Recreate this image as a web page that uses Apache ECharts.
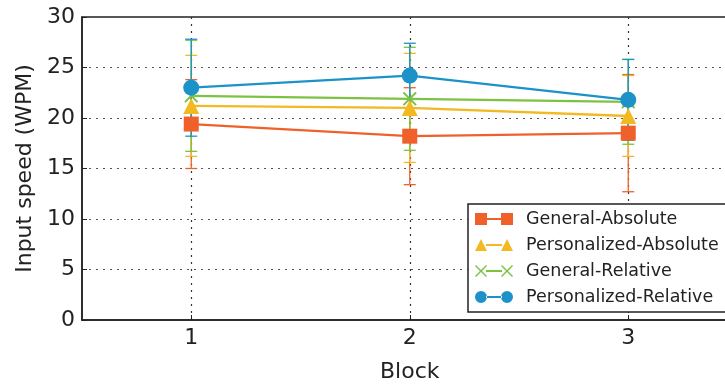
<!DOCTYPE html>
<html>
<head>
<meta charset="utf-8">
<script src="https://cdn.jsdelivr.net/npm/echarts@6/dist/echarts.min.js"></script>
<style>
  html, body { margin: 0; padding: 0; background: #fff; }
  #chart { width: 725px; height: 385px; }
</style>
</head>
<body>
<div id="chart"></div>
<script>
const blocks = [1, 2, 3];
const yTicks = [0, 5, 10, 15, 20, 25, 30];

const generalAbsolute = [19.4, 18.2, 18.5];
const generalAbsoluteErr = [4.4, 4.8, 5.8];
const personalizedAbsolute = [21.2, 21.0, 20.2];
const personalizedAbsoluteErr = [5.0, 5.4, 4.0];
const generalRelative = [22.2, 21.9, 21.6];
const generalRelativeErr = [5.5, 5.1, 4.2];
const personalizedRelative = [23.0, 24.2, 21.8];
const personalizedRelativeErr = [4.8, 3.2, 4.0];

const font = 'DejaVu Sans';
const xMark = 'path://M0,1L1,0L5,4L9,0L10,1L6,5L10,9L9,10L5,6L1,10L0,9L4,5Z';

// legend icons: marker - line - marker, 38x12 box
const iconLine = 'M11,5h16v2h-16z';
const legendIcons = {
  rect: 'path://M0,0h12v12h-12zM26,0h12v12h-12z' + iconLine,
  triangle: 'path://M0,12L6,0L12,12zM26,12L32,0L38,12z' + iconLine,
  x: 'path://M0,1L1,0L6,5L11,0L12,1L7,6L12,11L11,12L6,7L1,12L0,11L5,6z' +
     'M26,1L27,0L32,5L37,0L38,1L33,6L38,11L37,12L32,7L27,12L26,11L31,6z' + iconLine,
  circle: 'path://M0,6a6,6 0 1,0 12,0a6,6 0 1,0 -12,0zM26,6a6,6 0 1,0 12,0a6,6 0 1,0 -12,0z' + iconLine
};

const groups = [
  { name: 'General-Absolute', color: '#F0602A', symbol: 'rect', icon: legendIcons.rect, size: 15, vals: generalAbsolute, err: generalAbsoluteErr },
  { name: 'Personalized-Absolute', color: '#F2B922', symbol: 'triangle', icon: legendIcons.triangle, size: 16, vals: personalizedAbsolute, err: personalizedAbsoluteErr },
  { name: 'General-Relative', color: '#7DC242', symbol: xMark, icon: legendIcons.x, size: 14, vals: generalRelative, err: generalRelativeErr },
  { name: 'Personalized-Relative', color: '#1C92C9', symbol: 'circle', icon: legendIcons.circle, size: 16, vals: personalizedRelative, err: personalizedRelativeErr }
];

function errorBars(g, idx) {
  return {
    type: 'custom',
    name: g.name + '-err',
    z: 1 + idx,
    silent: true,
    data: g.vals.map((v, i) => [blocks[i], v - g.err[i], v + g.err[i]]),
    renderItem: function (params, api) {
      const lo = api.coord([api.value(0), api.value(1)]);
      const hi = api.coord([api.value(0), api.value(2)]);
      const cap = 6;
      const style = { stroke: g.color, lineWidth: 1.3 };
      return {
        type: 'group',
        children: [
          { type: 'line', shape: { x1: lo[0], y1: lo[1], x2: hi[0], y2: hi[1] }, style: style },
          { type: 'line', shape: { x1: lo[0] - cap, y1: lo[1], x2: lo[0] + cap, y2: lo[1] }, style: style },
          { type: 'line', shape: { x1: hi[0] - cap, y1: hi[1], x2: hi[0] + cap, y2: hi[1] }, style: style }
        ]
      };
    }
  };
}

const lineSeries = groups.map((g, idx) => ({
  type: 'line',
  name: g.name,
  data: g.vals.map((v, i) => [blocks[i], v]),
  z: 10 + idx,
  symbol: g.symbol,
  symbolSize: g.size,
  showAllSymbol: true,
  lineStyle: { color: g.color, width: 2.3 },
  itemStyle: { color: g.color }
}));

const chart = echarts.init(document.getElementById('chart'));
chart.setOption({
  animation: false,
  textStyle: { fontFamily: font },
  grid: {
    left: 82, top: 17, width: 655.5, height: 303,
    outerBoundsMode: 'none', containLabel: false,
    show: true, borderColor: '#222', borderWidth: 1.5, backgroundColor: 'transparent'
  },
  legend: {
    orient: 'vertical',
    left: 468, top: 204,
    data: groups.map(g => ({ name: g.name, icon: g.icon })),
    itemWidth: 38, itemHeight: 12, itemGap: 8,
    padding: [6, 40, 6, 7],
    borderColor: '#222', borderWidth: 1.5,
    backgroundColor: '#fff',
    textStyle: { fontFamily: font, fontSize: 17.5, color: '#222', padding: [0, 0, 0, 8] }
  },
  xAxis: {
    type: 'value',
    min: 0.5, max: 3.5,
    name: 'Block',
    nameLocation: 'middle',
    nameGap: 41,
    nameTextStyle: { fontFamily: font, fontSize: 22, color: '#222' },
    axisLine: { lineStyle: { color: '#222', width: 1.5 } },
    axisTick: { inside: true, length: 5, customValues: blocks, lineStyle: { color: '#222' } },
    axisLabel: { fontFamily: font, fontSize: 22, color: '#222', margin: 7, customValues: blocks },
    splitLine: { show: true, lineStyle: { color: '#333', type: [2, 5], width: 1.2 } }
  },
  yAxis: {
    type: 'value',
    min: yTicks[0], max: yTicks[yTicks.length - 1], interval: 5,
    name: 'Input speed (WPM)',
    nameLocation: 'middle',
    nameGap: 41,
    nameTextStyle: { fontFamily: font, fontSize: 22, color: '#222' },
    axisLine: { show: true, lineStyle: { color: '#222', width: 1.5 } },
    axisTick: { show: true, inside: true, length: 5, lineStyle: { color: '#222' } },
    axisLabel: { fontFamily: font, fontSize: 22, color: '#222', margin: 7 },
    splitLine: { show: true, lineStyle: { color: '#555', type: [2, 5], width: 1.2 } }
  },
  series: groups.map(errorBars).concat(lineSeries)
});
</script>
</body>
</html>
